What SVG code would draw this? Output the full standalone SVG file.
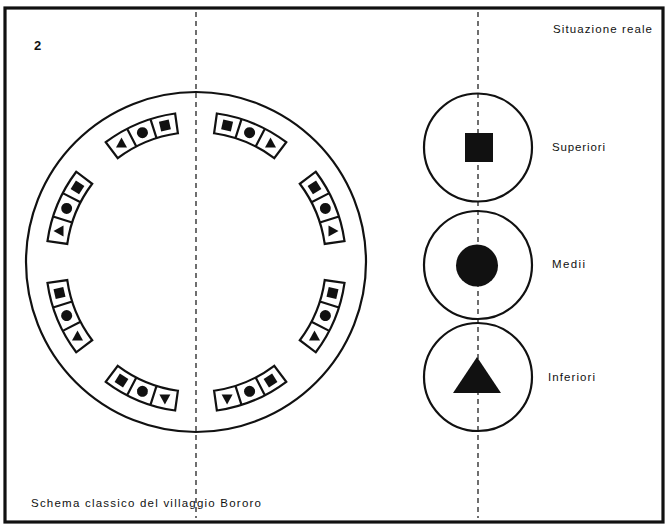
<svg xmlns="http://www.w3.org/2000/svg" xmlns:xlink="http://www.w3.org/1999/xlink" width="669" height="529" viewBox="0 0 669 529">
<style>
.ln{fill:none;stroke:#111;stroke-width:2.2}
.dash{fill:none;stroke:#222;stroke-width:1.3;stroke-dasharray:5 4}
.fill{fill:#111}
.t{font-family:"Liberation Sans",Arial,sans-serif;font-size:11.5px;fill:#111}
</style>
<defs>
<path id="band" class="ln" d="M158.44,116.8 A150,150 0 0 1 233.56,116.8 L228.55,136.15 A130,130 0 0 0 163.45,136.15 Z M183.37,112.53 L185.05,132.46 M208.63,112.53 L206.95,132.46"/>
<rect id="sq" class="fill" x="-5" y="-5" width="10" height="10"/>
<circle id="dot" class="fill" r="5.5"/>
<polygon id="tu" class="fill" points="0,-6 5.5,4 -5.5,4"/>
<polygon id="td" class="fill" points="0,6 5.5,-4 -5.5,-4"/>
<polygon id="tl" class="fill" points="-6,0 4,-5.5 4,5.5"/>
<polygon id="tr" class="fill" points="6,0 -4,-5.5 -4,5.5"/>
</defs>
<rect x="5" y="8" width="658" height="514" fill="#fff" stroke="#111" stroke-width="3.2"/>
<g id="connectors">
<line class="dash" x1="196" y1="12" x2="196" y2="518"/>
<line class="dash" x1="478" y1="12" x2="478" y2="518"/>
</g>
<g id="village">
<circle class="ln" cx="196" cy="262" r="170"/>
</g>
<g id="band-l1">
<g transform="rotate(-22.5 196 262)">
<use href="#band"/>
<use href="#dot" transform="translate(196 122)"/>
<use href="#sq" transform="rotate(9.67 196 262) translate(196 122)"/>
</g>
<use href="#tu" transform="translate(121.5 143.5)"/>
</g>
<g id="band-l2">
<g transform="rotate(-67.5 196 262)">
<use href="#band"/>
<use href="#dot" transform="translate(196 122)"/>
<use href="#sq" transform="rotate(9.67 196 262) translate(196 122)"/>
</g>
<use href="#tl" transform="translate(59.5 230.9)"/>
</g>
<g id="band-l3">
<g transform="rotate(-112.5 196 262)">
<use href="#band"/>
<use href="#dot" transform="translate(196 122)"/>
<use href="#sq" transform="rotate(9.67 196 262) translate(196 122)"/>
</g>
<use href="#tu" transform="translate(77.5 336.5)"/>
</g>
<g id="band-l4">
<g transform="rotate(-157.5 196 262)">
<use href="#band"/>
<use href="#dot" transform="translate(196 122)"/>
<use href="#sq" transform="rotate(9.67 196 262) translate(196 122)"/>
</g>
<use href="#td" transform="translate(164.9 398.5)"/>
</g>
<g id="band-r1">
<g transform="rotate(22.5 196 262)">
<use href="#band"/>
<use href="#sq" transform="rotate(-9.67 196 262) translate(196 122)"/>
<use href="#dot" transform="translate(196 122)"/>
</g>
<use href="#tu" transform="translate(270.5 143.5)"/>
</g>
<g id="band-r2">
<g transform="rotate(67.5 196 262)">
<use href="#band"/>
<use href="#sq" transform="rotate(-9.67 196 262) translate(196 122)"/>
<use href="#dot" transform="translate(196 122)"/>
</g>
<use href="#tr" transform="translate(332.5 230.9)"/>
</g>
<g id="band-r3">
<g transform="rotate(112.5 196 262)">
<use href="#band"/>
<use href="#sq" transform="rotate(-9.67 196 262) translate(196 122)"/>
<use href="#dot" transform="translate(196 122)"/>
</g>
<use href="#tu" transform="translate(314.5 336.5)"/>
</g>
<g id="band-r4">
<g transform="rotate(157.5 196 262)">
<use href="#band"/>
<use href="#sq" transform="rotate(-9.67 196 262) translate(196 122)"/>
<use href="#dot" transform="translate(196 122)"/>
</g>
<use href="#td" transform="translate(227.1 398.5)"/>
</g>
<g id="superiori">
<circle class="ln" cx="478" cy="147.5" r="54"/>
<rect class="fill" x="465" y="133" width="28" height="29"/>
<text class="t" x="552" y="151" textLength="53">Superiori</text>
</g>
<g id="medii">
<circle class="ln" cx="478" cy="265" r="54"/>
<circle class="fill" cx="477" cy="265.5" r="21"/>
<text class="t" x="552" y="268" textLength="33">Medii</text>
</g>
<g id="inferiori">
<circle class="ln" cx="478" cy="377" r="54"/>
<polygon class="fill" points="477,357 501,393 453,393"/>
<text class="t" x="548" y="381" textLength="47">Inferiori</text>
</g>
<text x="34" y="50" font-family="Liberation Sans,Arial,sans-serif" font-size="13" font-weight="bold" fill="#111">2</text>
<text class="t" x="553" y="33" textLength="99">Situazione reale</text>
<text class="t" x="31" y="507" textLength="230">Schema classico del villaggio Bororo</text>
</svg>
